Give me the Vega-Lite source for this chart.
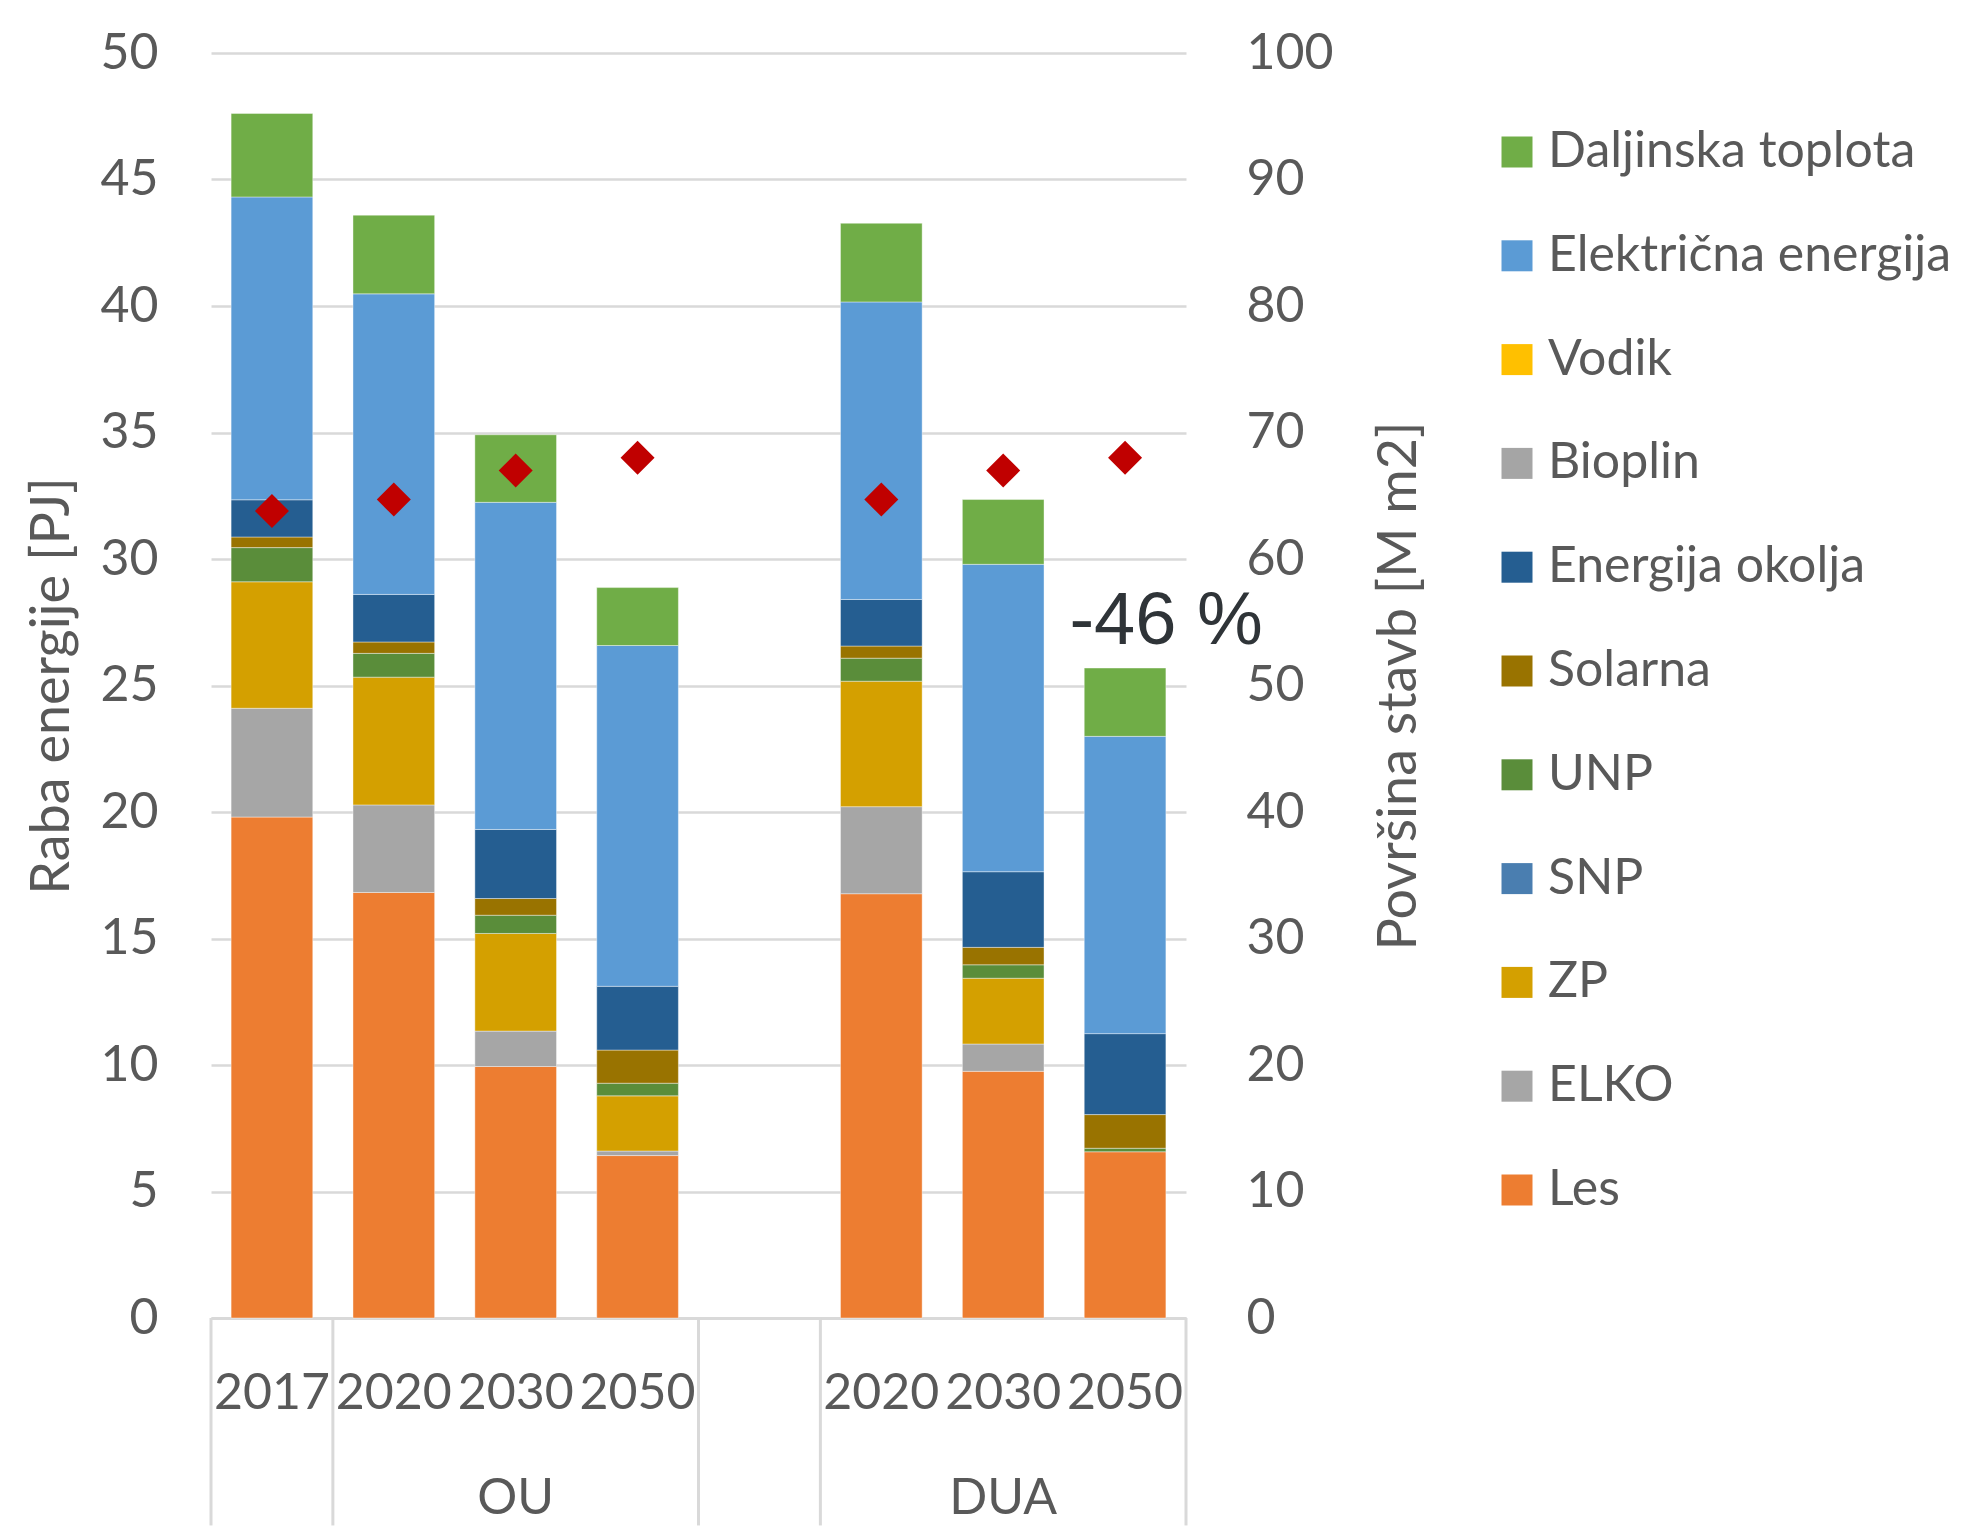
{
  "$schema": "https://vega.github.io/schema/vega-lite/v6.json",
  "width": 975,
  "height": 1265,
  "autosize": {"type": "none"},
  "padding": {"left": 211, "top": 53, "right": 782, "bottom": 208},
  "background": "white",
  "config": {
    "view": {"stroke": null},
    "font": "Lato",
    "axis": {
      "labelFont": "Lato",
      "titleFont": "Lato",
      "labelColor": "#595959",
      "titleColor": "#595959",
      "titleFontWeight": "normal",
      "ticks": false,
      "tickSize": 0,
      "domain": false
    },
    "legend": {"labelFont": "Lato"}
  },
  "datasets": {
    "energy": [
      {"slot": "2017", "vir": "Les", "pj": 19.8},
      {"slot": "2017", "vir": "ELKO", "pj": 4.3},
      {"slot": "2017", "vir": "ZP", "pj": 5.0},
      {"slot": "2017", "vir": "UNP", "pj": 1.35},
      {"slot": "2017", "vir": "Solarna", "pj": 0.42},
      {"slot": "2017", "vir": "Energija okolja", "pj": 1.47},
      {"slot": "2017", "vir": "Električna energija", "pj": 11.97},
      {"slot": "2017", "vir": "Daljinska toplota", "pj": 3.3},

      {"slot": "OU 2020", "vir": "Les", "pj": 16.82},
      {"slot": "OU 2020", "vir": "ELKO", "pj": 3.46},
      {"slot": "OU 2020", "vir": "ZP", "pj": 5.05},
      {"slot": "OU 2020", "vir": "UNP", "pj": 0.94},
      {"slot": "OU 2020", "vir": "Solarna", "pj": 0.45},
      {"slot": "OU 2020", "vir": "Energija okolja", "pj": 1.88},
      {"slot": "OU 2020", "vir": "Električna energija", "pj": 11.88},
      {"slot": "OU 2020", "vir": "Daljinska toplota", "pj": 3.11},

      {"slot": "OU 2030", "vir": "Les", "pj": 9.94},
      {"slot": "OU 2030", "vir": "ELKO", "pj": 1.4},
      {"slot": "OU 2030", "vir": "ZP", "pj": 3.86},
      {"slot": "OU 2030", "vir": "UNP", "pj": 0.72},
      {"slot": "OU 2030", "vir": "Solarna", "pj": 0.66},
      {"slot": "OU 2030", "vir": "Energija okolja", "pj": 2.73},
      {"slot": "OU 2030", "vir": "Električna energija", "pj": 12.93},
      {"slot": "OU 2030", "vir": "Daljinska toplota", "pj": 2.67},

      {"slot": "OU 2050", "vir": "Les", "pj": 6.42},
      {"slot": "OU 2050", "vir": "ELKO", "pj": 0.18},
      {"slot": "OU 2050", "vir": "ZP", "pj": 2.18},
      {"slot": "OU 2050", "vir": "UNP", "pj": 0.5},
      {"slot": "OU 2050", "vir": "Solarna", "pj": 1.31},
      {"slot": "OU 2050", "vir": "Energija okolja", "pj": 2.52},
      {"slot": "OU 2050", "vir": "Električna energija", "pj": 13.47},
      {"slot": "OU 2050", "vir": "Daljinska toplota", "pj": 2.29},

      {"slot": "DUA 2020", "vir": "Les", "pj": 16.77},
      {"slot": "DUA 2020", "vir": "ELKO", "pj": 3.44},
      {"slot": "DUA 2020", "vir": "ZP", "pj": 4.96},
      {"slot": "DUA 2020", "vir": "UNP", "pj": 0.91},
      {"slot": "DUA 2020", "vir": "Solarna", "pj": 0.48},
      {"slot": "DUA 2020", "vir": "Energija okolja", "pj": 1.84},
      {"slot": "DUA 2020", "vir": "Električna energija", "pj": 11.76},
      {"slot": "DUA 2020", "vir": "Daljinska toplota", "pj": 3.11},

      {"slot": "DUA 2030", "vir": "Les", "pj": 9.75},
      {"slot": "DUA 2030", "vir": "ELKO", "pj": 1.08},
      {"slot": "DUA 2030", "vir": "ZP", "pj": 2.6},
      {"slot": "DUA 2030", "vir": "UNP", "pj": 0.53},
      {"slot": "DUA 2030", "vir": "Solarna", "pj": 0.69},
      {"slot": "DUA 2030", "vir": "Energija okolja", "pj": 2.99},
      {"slot": "DUA 2030", "vir": "Električna energija", "pj": 12.15},
      {"slot": "DUA 2030", "vir": "Daljinska toplota", "pj": 2.56},

      {"slot": "DUA 2050", "vir": "Les", "pj": 6.57},
      {"slot": "DUA 2050", "vir": "UNP", "pj": 0.14},
      {"slot": "DUA 2050", "vir": "Solarna", "pj": 1.33},
      {"slot": "DUA 2050", "vir": "Energija okolja", "pj": 3.2},
      {"slot": "DUA 2050", "vir": "Električna energija", "pj": 11.75},
      {"slot": "DUA 2050", "vir": "Daljinska toplota", "pj": 2.7}
    ],
    "area": [
      {"slot": "2017", "m2": 63.8},
      {"slot": "OU 2020", "m2": 64.7},
      {"slot": "OU 2030", "m2": 67.0},
      {"slot": "OU 2050", "m2": 68.0},
      {"slot": "DUA 2020", "m2": 64.7},
      {"slot": "DUA 2030", "m2": 67.0},
      {"slot": "DUA 2050", "m2": 68.0}
    ],
    "groupStarts": [
      {"slot": "2017"},
      {"slot": "OU 2020"},
      {"slot": "–"},
      {"slot": "DUA 2020"}
    ],
    "groupEnd": [
      {"slot": "DUA 2050"}
    ],
    "notes": [
      {"slot": "DUA 2050", "note": "-46 %"}
    ]
  },
  "layer": [
    {
      "layer": [
        {
          "data": {"name": "energy"},
          "transform": [
            {"calculate": "indexof(['Les', 'ELKO', 'ZP', 'SNP', 'UNP', 'Solarna', 'Energija okolja', 'Bioplin', 'Vodik', 'Električna energija', 'Daljinska toplota'], datum.vir)", "as": "stackRank"}
          ],
          "mark": {"type": "bar", "width": {"band": 0.67}, "stroke": "#ffffff", "strokeWidth": 0.8, "strokeOpacity": 0.5},
          "encoding": {
            "x": {
              "field": "slot",
              "type": "nominal",
              "scale": {
                "domain": ["2017", "OU 2020", "OU 2030", "OU 2050", "–", "DUA 2020", "DUA 2030", "DUA 2050"],
                "paddingInner": 0,
                "paddingOuter": 0
              },
              "axis": {
                "title": null,
                "domain": true,
                "domainColor": "#d9d9d9",
                "domainWidth": 3,
                "labelAngle": 0,
                "labelFontSize": 50,
                "labelPadding": 50,
                "labelLineHeight": 105,
                "labelExpr": "datum.value == '–' ? '' : datum.value == 'OU 2030' ? ['2030', 'OU'] : datum.value == 'DUA 2030' ? ['2030', 'DUA'] : slice(datum.value, -4)"
              }
            },
            "y": {
              "field": "pj",
              "type": "quantitative",
              "stack": "zero",
              "scale": {"domain": [0, 50], "nice": false},
              "axis": {
                "title": "Raba energije [PJ]",
                "titleFontSize": 54,
                "titlePadding": 20,
                "labelFontSize": 50,
                "labelPadding": 53,
                "tickCount": 10,
                "grid": true,
                "gridColor": "#d9d9d9",
                "gridWidth": 2.5
              }
            },
            "order": {"field": "stackRank", "type": "quantitative", "sort": "ascending"},
            "color": {
              "field": "vir",
              "type": "nominal",
              "scale": {
                "domain": ["Daljinska toplota", "Električna energija", "Vodik", "Bioplin", "Energija okolja", "Solarna", "UNP", "SNP", "ZP", "ELKO", "Les"],
                "range": ["#70AD47", "#5B9BD5", "#FFC000", "#A5A5A5", "#255E91", "#997300", "#5A8D3A", "#4A7EB0", "#D4A000", "#A6A6A6", "#ED7D31"]
              },
              "legend": {
                "title": null,
                "orient": "none",
                "legendX": 1281,
                "legendY": 74,
                "direction": "vertical",
                "symbolType": "square",
                "symbolSize": 961,
                "symbolStrokeWidth": 0,
                "labelFontSize": 50,
                "labelColor": "#595959",
                "labelOffset": 6,
                "labelLimit": 600,
                "rowPadding": 53.8
              }
            }
          }
        },
        {
          "data": {"name": "groupStarts"},
          "mark": {"type": "rule", "color": "#d9d9d9", "strokeWidth": 3},
          "encoding": {
            "x": {"field": "slot", "type": "nominal", "bandPosition": 0},
            "y": {"datum": 0, "scale": {"domain": [0, 50], "nice": false}},
            "y2": {"datum": -8.2}
          }
        },
        {
          "data": {"name": "groupEnd"},
          "mark": {"type": "rule", "color": "#d9d9d9", "strokeWidth": 3},
          "encoding": {
            "x": {"field": "slot", "type": "nominal", "bandPosition": 1},
            "y": {"datum": 0, "scale": {"domain": [0, 50], "nice": false}},
            "y2": {"datum": -8.2}
          }
        },
        {
          "data": {"name": "notes"},
          "mark": {"type": "text", "font": "Liberation Sans", "fontSize": 74, "color": "#2f3438", "dx": 41, "baseline": "middle", "align": "center"},
          "encoding": {
            "x": {"field": "slot", "type": "nominal"},
            "y": {"datum": 27.5, "scale": {"domain": [0, 50], "nice": false}},
            "text": {"field": "note"}
          }
        }
      ]
    },
    {
      "data": {"name": "area"},
      "mark": {"type": "point", "shape": "diamond", "filled": true, "color": "#C00000", "size": 1156, "opacity": 1},
      "encoding": {
        "x": {"field": "slot", "type": "nominal"},
        "y": {
          "field": "m2",
          "type": "quantitative",
          "scale": {"domain": [0, 100], "nice": false},
          "axis": {
            "orient": "right",
            "title": "Površina stavb [M m2]",
            "titleFontSize": 54,
            "titleAngle": 270,
            "titlePadding": 93,
            "labelFontSize": 50,
            "labelPadding": 60,
            "tickCount": 10,
            "grid": false
          }
        }
      }
    }
  ],
  "resolve": {"scale": {"y": "independent"}}
}
